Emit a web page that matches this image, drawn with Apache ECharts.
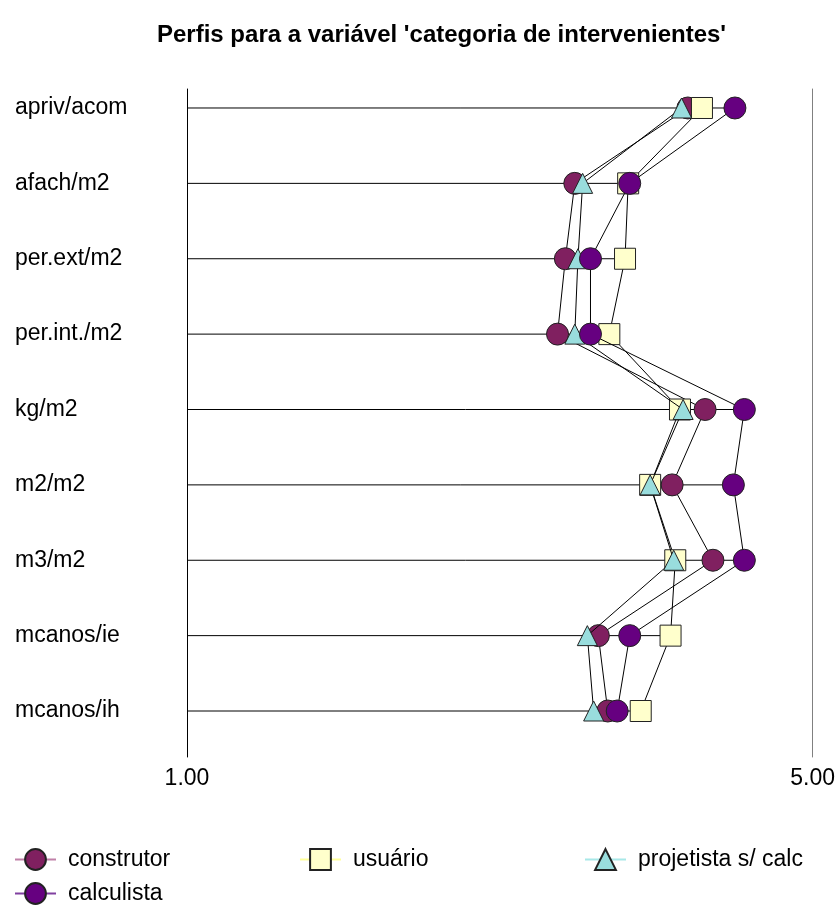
<!DOCTYPE html>
<html>
<head>
<meta charset="utf-8">
<script src="https://cdn.jsdelivr.net/npm/echarts@6/dist/echarts.min.js"></script>
<style>html,body{margin:0;padding:0;background:#fff}#c{width:838px;height:907px}</style>
</head>
<body>
<div id="c"></div>
<script>
const titleText = "Perfis para a variável 'categoria de intervenientes'";
const categories = ['apriv/acom','afach/m2','per.ext/m2','per.int./m2','kg/m2','m2/m2','m3/m2','mcanos/ie','mcanos/ih'];
const construtor = [4.19, 3.47, 3.41, 3.36, 4.30, 4.09, 4.35, 3.62, 3.68];
const usuario    = [4.28, 3.81, 3.79, 3.69, 4.14, 3.95, 4.11, 4.08, 3.89];
const projetista = [4.15, 3.52, 3.49, 3.47, 4.16, 3.95, 4.10, 3.55, 3.59];
const calculista = [4.49, 3.82, 3.57, 3.57, 4.55, 4.48, 4.55, 3.82, 3.74];
const xTicks = [1, 5];
const xMin = 1, xMax = 5;

const FONT = "'Liberation Sans', Arial, sans-serif";
const rowMax = categories.map((c, i) => Math.max(construtor[i], usuario[i], projetista[i], calculista[i]));

const chart = echarts.init(document.getElementById('c'), null, {renderer: 'canvas'});

function lineSeries(name, data, symbol, size, color, z) {
  return {
    name, type: 'line', data, xAxisIndex: 0, yAxisIndex: 0,
    symbol, symbolSize: size, showAllSymbol: true, z,
    lineStyle: {color: '#000', width: 1},
    itemStyle: {color, borderColor: '#222', borderWidth: 1},
    emphasis: {disabled: true}, animation: false
  };
}

function legendAt(left, top, name, lineColor) {
  return {
    left, top, padding: 0, itemWidth: 41, itemHeight: 26, selectedMode: false,
    textStyle: {fontSize: 23, color: '#000', fontFamily: FONT, padding: [0, 0, 0, 7]},
    data: [{name, lineStyle: {color: lineColor, width: 2}}]
  };
}

chart.setOption({
  backgroundColor: '#fff',
  animation: false,
  title: {
    text: titleText, left: 152, top: 18,
    textStyle: {fontSize: 24, fontWeight: 'bold', color: '#000', fontFamily: FONT}
  },
  legend: [
    legendAt(14, 848, 'construtor', '#C080A8'),
    legendAt(299, 848, 'usuário', '#FFFF99'),
    legendAt(584, 848, 'projetista s/ calc', '#A8E8E8'),
    legendAt(14, 882, 'calculista', '#8040A0')
  ],
  grid: [
    {left: 187, right: 23, top: 70.3, bottom: 158.3},
    {left: 187, right: 23, top: 89, bottom: 150}
  ],
  xAxis: [
    {type: 'value', gridIndex: 0, min: xMin, max: xMax, show: false},
    {type: 'value', gridIndex: 1, min: xMin, max: xMax,
     axisLine: {show: false, onZero: false}, axisTick: {show: false}, splitLine: {show: false},
     axisLabel: {customValues: xTicks, formatter: v => v.toFixed(2), fontSize: 23, color: '#000', fontFamily: FONT, margin: 10}}
  ],
  yAxis: [
    {type: 'category', gridIndex: 0, data: categories, inverse: true, boundaryGap: true,
     axisLine: {show: false}, axisTick: {show: false}, splitLine: {show: false},
     axisLabel: {align: 'left', margin: 172, fontSize: 23, color: '#000', fontFamily: FONT, padding: [0, 0, 10, 0]}},
    {type: 'value', gridIndex: 1, min: 0, max: 1, position: 'left',
     axisLine: {show: true, onZero: false, lineStyle: {color: '#000', width: 1}},
     axisTick: {show: false}, axisLabel: {show: false}, splitLine: {show: false}},
    {type: 'value', gridIndex: 1, min: 0, max: 1, position: 'right',
     axisLine: {show: true, onZero: false, lineStyle: {color: '#808080', width: 1}},
     axisTick: {show: false}, axisLabel: {show: false}, splitLine: {show: false}}
  ],
  series: [
    {
      type: 'custom', xAxisIndex: 0, yAxisIndex: 0, z: 1, silent: true,
      data: rowMax.map((m, i) => [m, i]),
      renderItem: function (params, api) {
        const i = api.value(1);
        const a = api.coord([xMin, i]);
        const b = api.coord([api.value(0), i]);
        return {type: 'line', shape: {x1: a[0], y1: a[1], x2: b[0], y2: b[1]},
                style: {stroke: '#000', lineWidth: 1}};
      }
    },
    lineSeries('construtor', construtor, 'circle', 22, '#802060', 2),
    lineSeries('usuário', usuario, 'rect', 21, '#FFFFCC', 3),
    lineSeries('projetista s/ calc', projetista, 'triangle', [20, 20], '#99DDDD', 4),
    lineSeries('calculista', calculista, 'circle', 22, '#660080', 5)
  ]
});
</script>
</body>
</html>
